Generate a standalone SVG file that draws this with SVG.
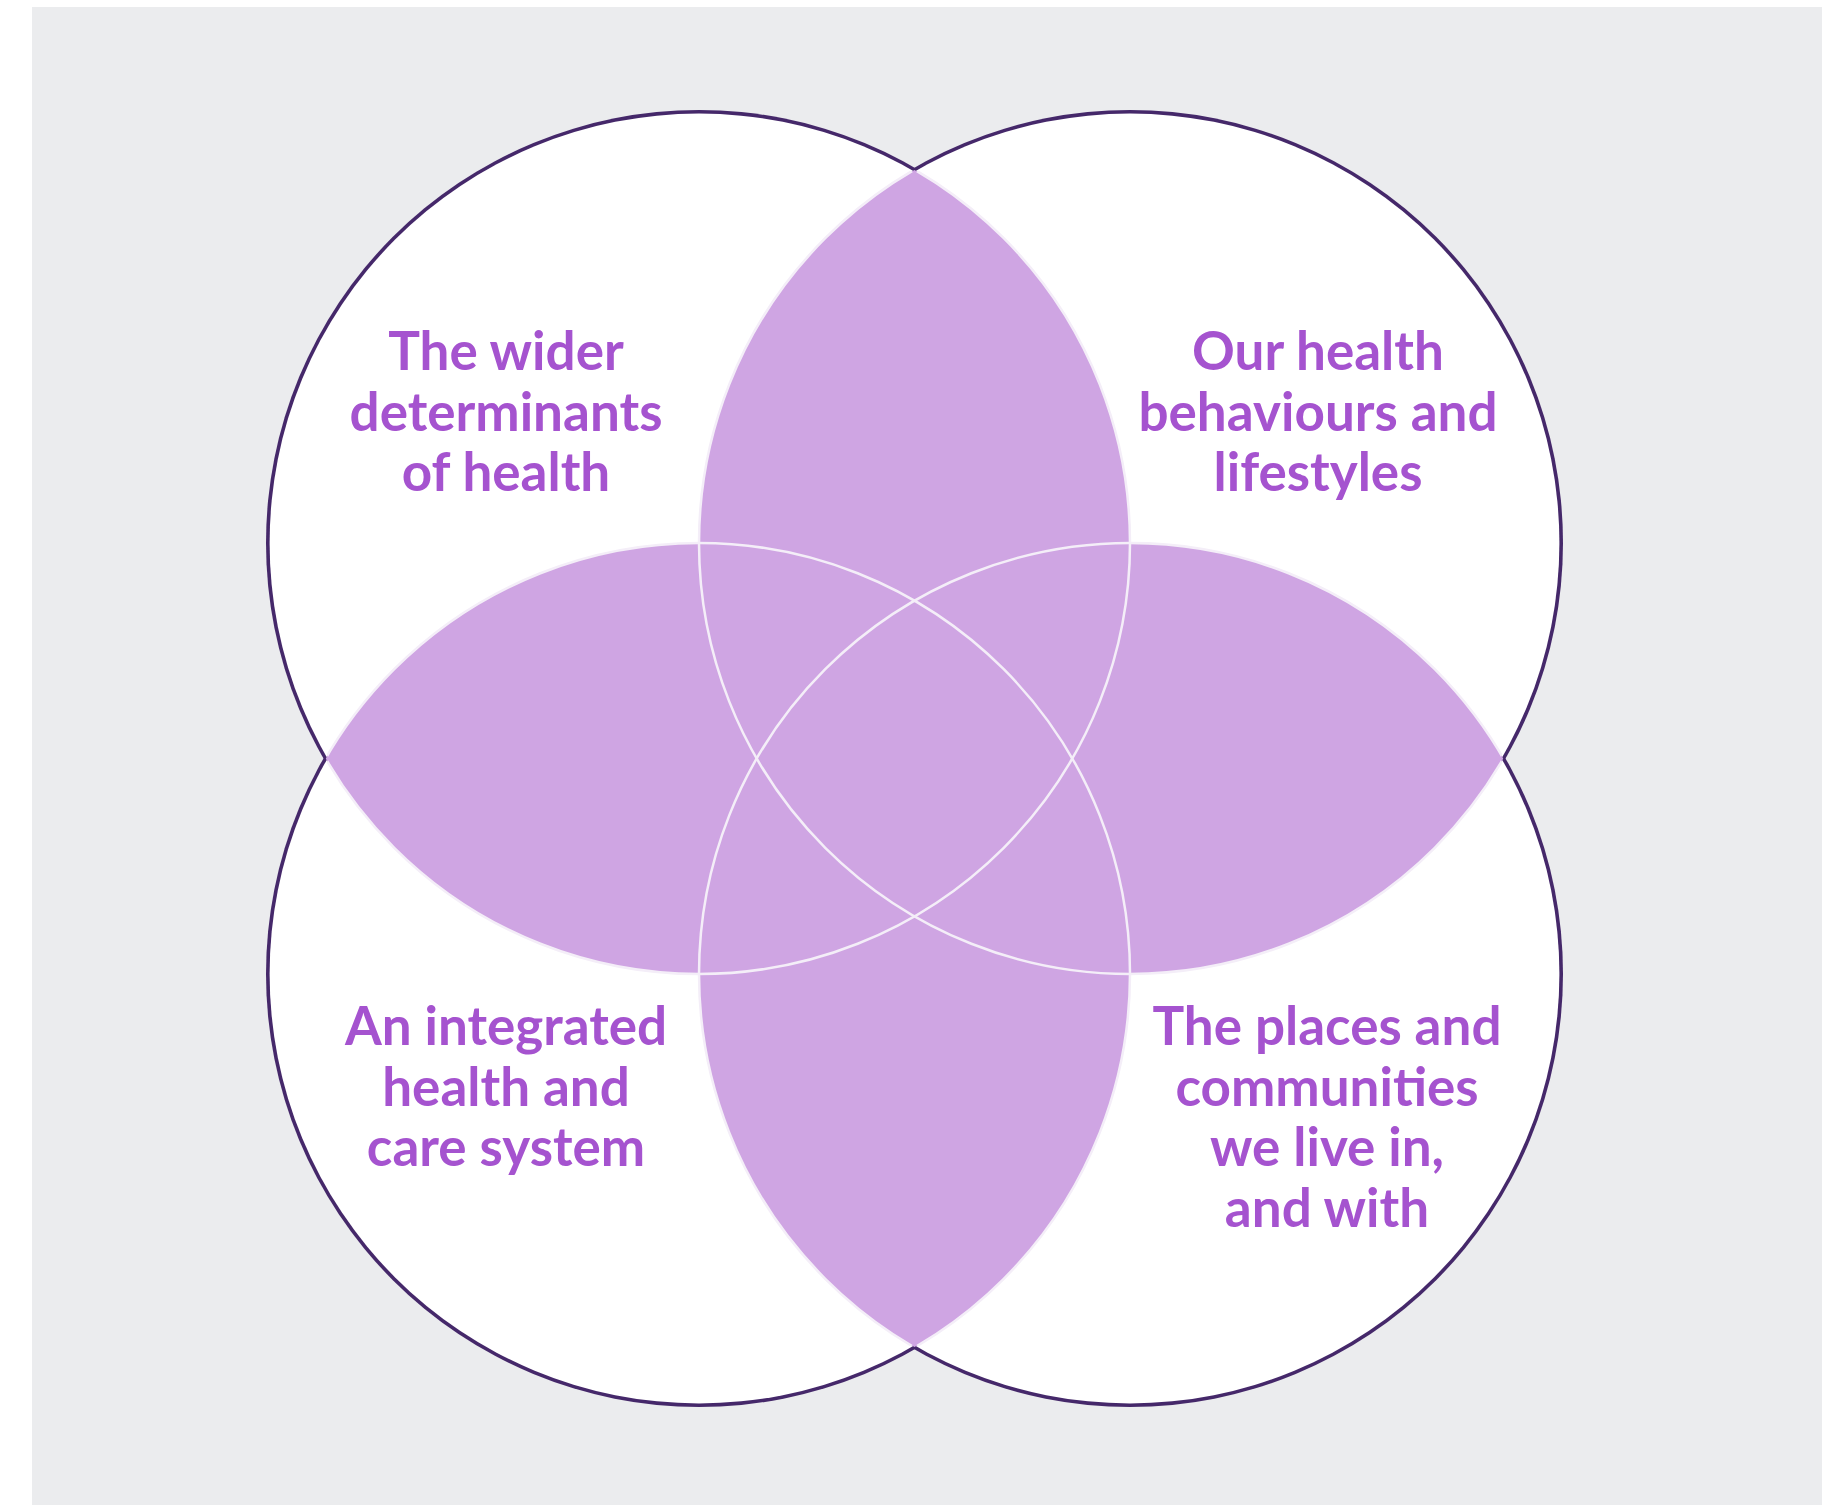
<svg xmlns="http://www.w3.org/2000/svg" width="1837" height="1505" viewBox="0 0 1837 1505">
<style>
.lbl{font-family:Lato,"Noto Sans","Liberation Sans",sans-serif;font-weight:700;font-size:53px;fill:#a553cf;text-anchor:middle}
.lens{fill:#cfa5e3}
.edge{fill:none;stroke:#f4eef8;stroke-width:2.5}
</style>
<defs>
<clipPath id="cTL"><circle cx="699" cy="543" r="431"/></clipPath>
<clipPath id="cTR"><circle cx="1130" cy="543" r="431"/></clipPath>
<clipPath id="cBL"><circle cx="699" cy="974" r="431"/></clipPath>
<clipPath id="cBR"><circle cx="1130" cy="974" r="431"/></clipPath>
<clipPath id="inner">
<circle cx="699" cy="543" r="428"/><circle cx="1130" cy="543" r="428"/><circle cx="699" cy="974" r="428"/><circle cx="1130" cy="974" r="428"/>
</clipPath>
</defs>
<rect x="0" y="0" width="1837" height="1505" fill="#ffffff"/>
<rect x="32" y="7" width="1790" height="1498" fill="#ebecee"/>
<g id="outline" fill="#45286a">
<circle cx="699" cy="543" r="433"/><circle cx="1130" cy="543" r="433"/><circle cx="699" cy="974" r="433"/><circle cx="1130" cy="974" r="433"/>
</g>
<g id="discs" fill="#ffffff">
<circle cx="699" cy="543" r="429.4"/><circle cx="1130" cy="543" r="429.4"/><circle cx="699" cy="974" r="429.4"/><circle cx="1130" cy="974" r="429.4"/>
</g>
<g id="overlaps" class="lens">
<g clip-path="url(#cTR)"><circle cx="699" cy="543" r="431"/></g>
<g clip-path="url(#cBL)"><circle cx="699" cy="543" r="431"/></g>
<g clip-path="url(#cBR)"><circle cx="1130" cy="543" r="431"/></g>
<g clip-path="url(#cBR)"><circle cx="699" cy="974" r="431"/></g>
<g clip-path="url(#cBR)"><circle cx="699" cy="543" r="431"/></g>
<g clip-path="url(#cBL)"><circle cx="1130" cy="543" r="431"/></g>
</g>
<g id="connectors" class="edge" clip-path="url(#inner)">
<circle cx="699" cy="543" r="431"/><circle cx="1130" cy="543" r="431"/><circle cx="699" cy="974" r="431"/><circle cx="1130" cy="974" r="431"/>
</g>
<g id="node-wider-determinants">
<text class="lbl" x="506" y="370">The wider</text>
<text class="lbl" x="506" y="431">determinants</text>
<text class="lbl" x="506" y="491">of health</text>
</g>
<g id="node-health-behaviours">
<text class="lbl" x="1318" y="370">Our health</text>
<text class="lbl" x="1318" y="431">behaviours and</text>
<text class="lbl" x="1318" y="491">lifestyles</text>
</g>
<g id="node-integrated-care">
<text class="lbl" x="506" y="1045">An integrated</text>
<text class="lbl" x="506" y="1106">health and</text>
<text class="lbl" x="506" y="1166">care system</text>
</g>
<g id="node-places-communities">
<text class="lbl" x="1327" y="1045">The places and</text>
<text class="lbl" x="1327" y="1106">communities</text>
<text class="lbl" x="1327" y="1166">we live in,</text>
<text class="lbl" x="1327" y="1227">and with</text>
</g>
</svg>
